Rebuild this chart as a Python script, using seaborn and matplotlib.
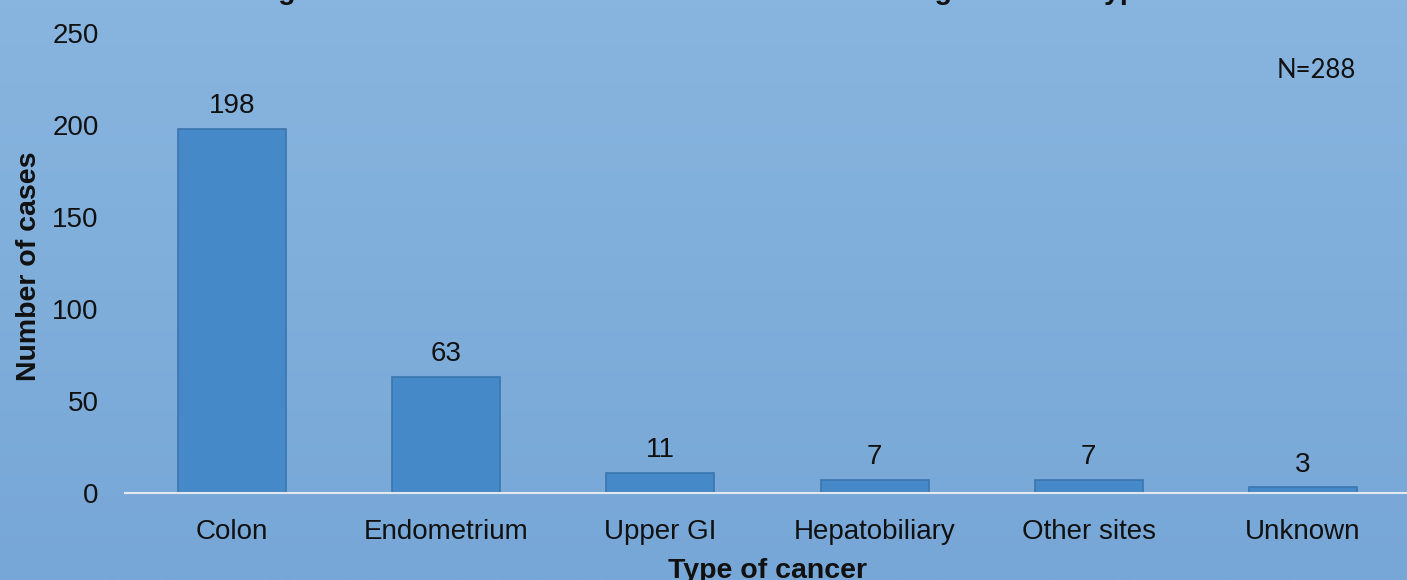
import numpy as np
import pandas as pd
import matplotlib
matplotlib.use("Agg")
import matplotlib.pyplot as plt
import seaborn as sns
from matplotlib.colors import LinearSegmentedColormap

# Cases by cancer type
categories = ["Colon", "Endometrium", "Upper GI", "Hepatobiliary", "Other sites", "Unknown"]
cases = [198, 63, 11, 7, 7, 3]
y_ticks = [0, 50, 100, 150, 200, 250]
total_label = "N=288"
title_text = "Figure 1: Distribution of all MMR-D cases according to cancer type"

sns.set_theme(style="white")
plt.rcParams["font.family"] = ["Liberation Sans", "DejaVu Sans"]

W, H, DPI = 1407, 580, 100
fig = plt.figure(figsize=(W / DPI, H / DPI), dpi=DPI)

# Vertical gradient background over the whole figure
bg = fig.add_axes([0, 0, 1, 1], zorder=0)
grad_cmap = LinearSegmentedColormap.from_list("bg", ["#88b5df", "#77a7d7"])
bg.imshow(np.linspace(0, 1, 256).reshape(-1, 1), aspect="auto", cmap=grad_cmap,
          extent=[0, 1, 0, 1], origin="upper")
bg.axis("off")

# Main plotting area
left, right = 125 / W, 1410 / W
bottom, top = 1 - 493 / H, 1 - 33 / H
ax = fig.add_axes([left, bottom, right - left, top - bottom], zorder=1)
ax.patch.set_alpha(0)

df = pd.DataFrame({"type": categories, "cases": cases})
sns.barplot(data=df, x="type", y="cases", ax=ax, color="#4689c8", width=0.505,
            saturation=1, edgecolor="#3b76ae", linewidth=1.2, zorder=3)

for i, v in enumerate(cases):
    ax.annotate(str(v), xy=(i, v), xytext=(0, 7), textcoords="offset points",
                ha="center", va="bottom", fontsize=20, color="#111111")

ax.set_xlim(-0.5, len(categories) - 0.5)
ax.set_ylim(0, 250)
ax.set_yticks(y_ticks)
ax.set_yticklabels([str(t) for t in y_ticks], fontsize=20, color="#111111")
ax.tick_params(axis="x", labelsize=20, colors="#111111", pad=19, length=0)
ax.tick_params(axis="y", pad=19, length=0)

for s in ["top", "right", "left"]:
    ax.spines[s].set_visible(False)
ax.spines["bottom"].set_color("#e4e8ee")
ax.spines["bottom"].set_linewidth(1.5)
ax.spines["bottom"].set_zorder(4)

ax.set_xlabel("Type of cancer", fontsize=20.5, fontweight="bold", color="#111111")
ax.set_ylabel("Number of cases", fontsize=20.5, fontweight="bold", color="#111111")
ax.xaxis.set_label_coords((767 - 125) / (1410 - 125), -(558 - 493) / (493 - 33))
ax.yaxis.set_label_coords(-(125 - 42) / (1410 - 125), (493 - 266) / (493 - 33))

fig.text(1316 / W, 1 - 70 / H, total_label, ha="center", va="center",
         fontsize=18.5, family=["Lato", "DejaVu Sans"], color="#111111", zorder=5)

# Heading runs off the top edge of the canvas
fig.text(703 / W, 1 + 1 / H, title_text, ha="center", va="baseline",
         fontsize=20.5, fontweight="bold", color="#111111", zorder=5)

fig.savefig("out.png", dpi=DPI)
